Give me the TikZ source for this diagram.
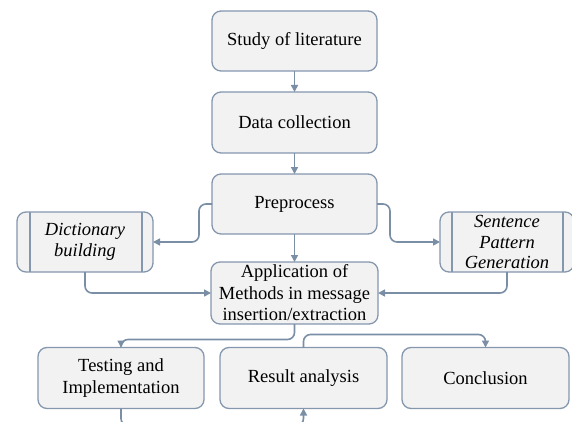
\documentclass[tikz,border=0pt]{standalone}
\usepackage{fontspec}
\setmainfont{Liberation Serif}
\usetikzlibrary{arrows.meta}
\definecolor{bordc}{HTML}{8497AD}
\definecolor{linec}{HTML}{7A8EA6}
\definecolor{fillc}{HTML}{F2F2F2}
\begin{document}
\begin{tikzpicture}[x=1pt,y=-1pt,
  box/.style={draw=bordc, fill=fillc, line width=1.3pt, rounded corners=9pt,
    rectangle, align=center, inner sep=0pt, outer sep=0pt,
    font=\fontsize{18.5}{21.5}\selectfont},
  conn/.style={draw=linec, line width=1.6pt, rounded corners=7pt,
    -{Triangle[length=7pt,width=7pt]}},
  plain/.style={draw=linec, line width=1.6pt, rounded corners=7pt}]
\useasboundingbox (0,0) rectangle (572,422);
\begin{scope}
\clip (0,0) rectangle (572,422);
\node[box, minimum width=165pt, minimum height=60pt] (study) at (294.5,41) {Study of literature};
\node[box, minimum width=165pt, minimum height=61pt] (data) at (294.5,122.5) {Data collection};
\node[box, minimum width=165pt, minimum height=60pt] (pre) at (294.5,204) {Preprocess};
\node[box, minimum width=136pt, minimum height=60pt, font=\fontsize{18.5}{21.5}\selectfont\itshape] (dict) at (85,242) {Dictionary\\building};
\node[box, minimum width=134pt, minimum height=60pt, font=\fontsize{18.5}{20.5}\selectfont\itshape] (sent) at (507,242) {Sentence\\Pattern\\Generation};
\node[box, minimum width=167pt, minimum height=62pt] (app) at (294.5,293) {Application of\\Methods in message\\insertion/extraction};
\node[box, minimum width=166pt, minimum height=61pt] (test) at (121,378) {Testing and\\Implementation};
\node[box, minimum width=167pt, minimum height=61pt] (res) at (303.5,378) {Result analysis};
\node[box, minimum width=167pt, minimum height=61pt] (conc) at (485.5,378) {Conclusion};
% inner lines of the process boxes
\draw[draw=bordc, line width=1.3pt] ([xshift=13pt]dict.north west) -- ([xshift=13pt]dict.south west);
\draw[draw=bordc, line width=1.3pt] ([xshift=-11pt]dict.north east) -- ([xshift=-11pt]dict.south east);
\draw[draw=bordc, line width=1.3pt] ([xshift=12pt]sent.north west) -- ([xshift=12pt]sent.south west);
\draw[draw=bordc, line width=1.3pt] ([xshift=-11pt]sent.north east) -- ([xshift=-11pt]sent.south east);
% connectors
\draw[conn] (study.south) -- (data.north);
\draw[conn] (data.south) -- (pre.north);
\draw[conn] (pre.south) -- (app.north);
\draw[conn] (pre.west) -- ++(-13,0) |- (dict.east);
\draw[conn] (pre.east) -- ++(13,0) |- (sent.west);
\draw[conn] (dict.south) |- (app.west);
\draw[conn] (sent.south) |- (app.east);
\draw[conn] (app.south) -- ++(0,15.5) -| (test.north);
\draw[conn] (res.north) -- ++(0,-13) -| (conc.north);
\draw[conn] (test.south) -- ++(0,17) -| (res.south);
\end{scope}
\end{tikzpicture}
\end{document}
